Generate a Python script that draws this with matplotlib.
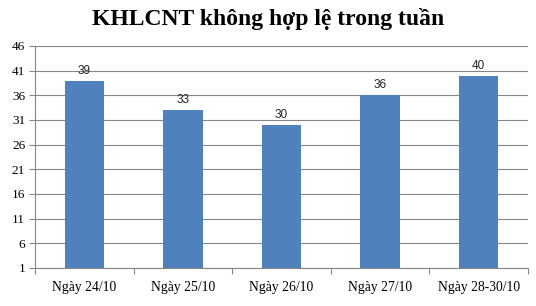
import numpy as np
import matplotlib.pyplot as plt

# số liệu
categories = ['Ngày 24/10', 'Ngày 25/10', 'Ngày 26/10', 'Ngày 27/10', 'Ngày 28-30/10']
values = [39, 33, 30, 36, 40]
yticks = [1, 6, 11, 16, 21, 26, 31, 36, 41, 46]


def draw_chart():
    fig = plt.figure(figsize=(5.36, 3.06), dpi=100)
    ax = fig.add_axes([35 / 536, 1 - 268 / 306, 493 / 536, 222 / 306])

    x = np.arange(len(categories))
    heights = [v - 1 for v in values]
    bars = ax.bar(x, heights, width=0.4, bottom=1, color='#4f81bd', zorder=3)
    for b, v in zip(bars, values):
        ax.text(b.get_x() + b.get_width() / 2, v + 0.8, str(v),
                ha='center', va='bottom', fontsize=8.5,
                family='Liberation Sans', color='#222222')

    ax.set_xlim(-0.5, len(categories) - 0.5)
    ax.set_ylim(1, 46)
    ax.set_yticks(yticks)
    ax.set_yticklabels([str(t) for t in yticks], family='Liberation Serif', fontsize=9.5)
    ax.set_xticks(np.arange(len(categories) + 1) - 0.5, minor=False)
    ax.set_xticklabels([])
    ax.set_xticks(x, minor=True)
    ax.set_xticklabels(categories, minor=True, family='Liberation Serif', fontsize=9.8)
    ax.tick_params(axis='x', which='minor', length=0, pad=9)
    ax.tick_params(axis='x', which='major', length=4, color='#868686')
    ax.tick_params(axis='y', length=4, color='#868686', pad=3)

    ax.grid(axis='y', color='#868686', linewidth=0.8, zorder=0)
    for side in ['top', 'right']:
        ax.spines[side].set_visible(False)
    ax.spines['left'].set_color('#868686')
    ax.spines['bottom'].set_color('#868686')

    fig.text(0.5, 1 - 19 / 306, 'KHLCNT không hợp lệ trong tuần',
             ha='center', va='center', fontsize=17, fontweight='bold',
             family='Liberation Serif')
    fig.savefig('out.png', dpi=100)


def main():
    draw_chart()


if __name__ == '__main__':
    main()
